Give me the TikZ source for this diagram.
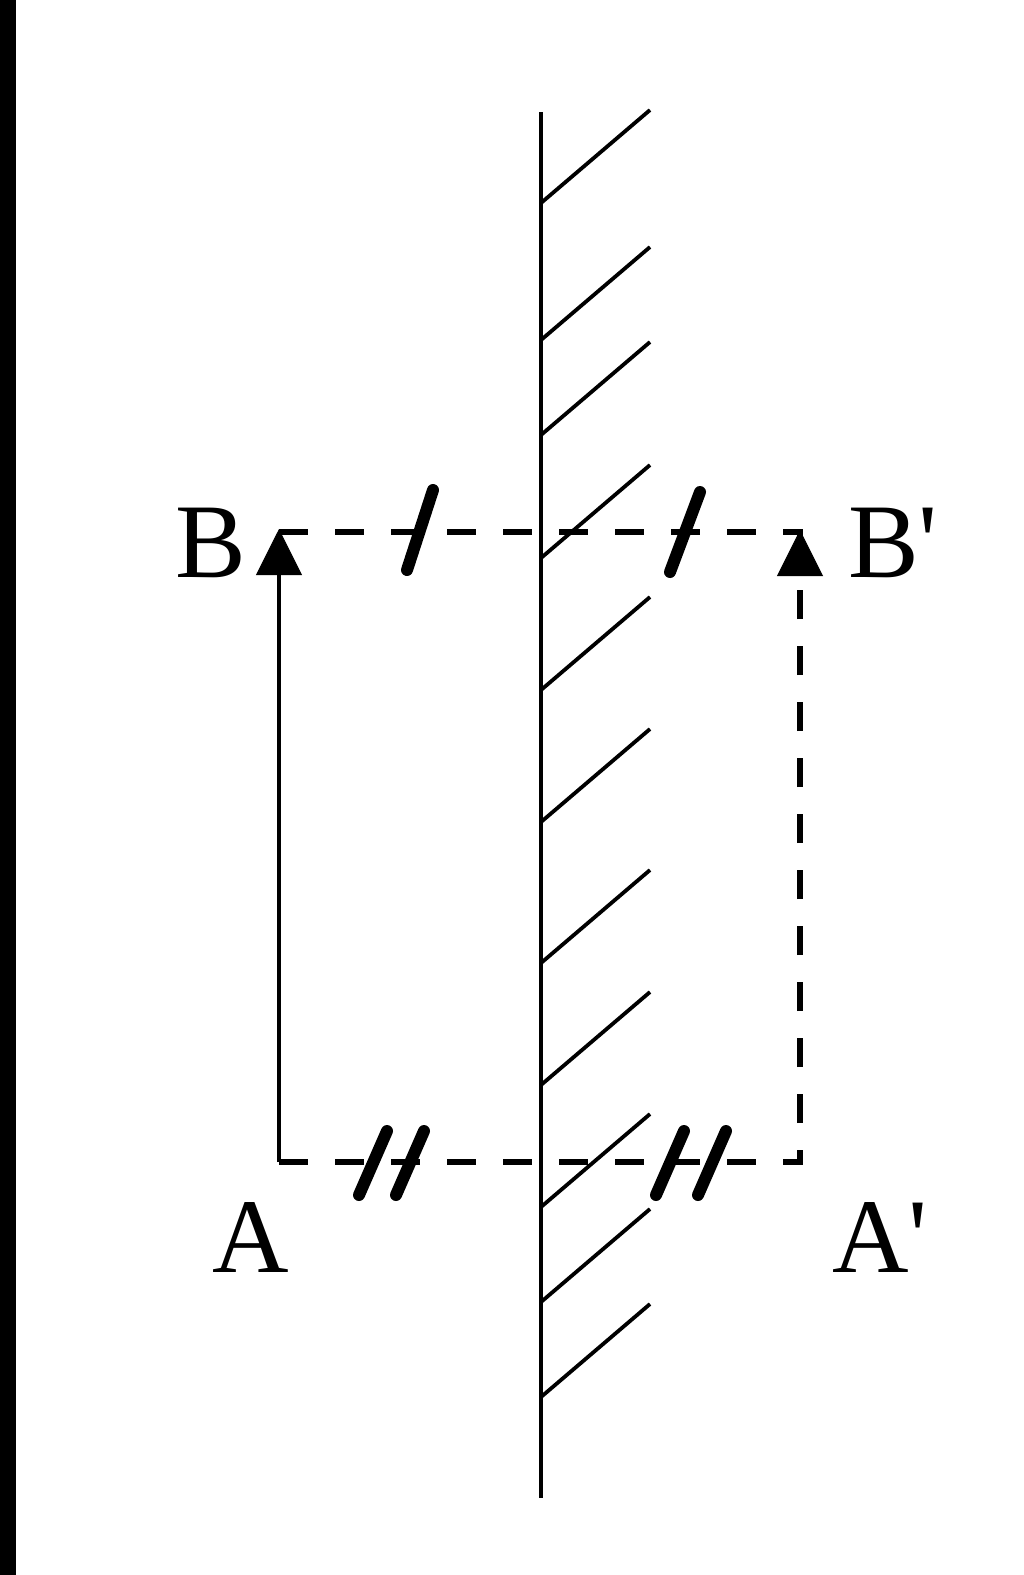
\documentclass[tikz,border=0pt]{standalone}
\usepackage{fontspec}
\newfontfamily\lab[Ligatures=TeXOff]{Liberation Serif}
\usetikzlibrary{arrows.meta,calc}
\begin{document}
\begin{tikzpicture}[x=1pt,y=-1pt,
  mirror/.style={line width=4.5pt},
  hatch/.style={line width=3.8pt},
  tipstyle/.style={-{Triangle[width=46pt,length=46pt,line width=1pt]}},
  solidarrow/.style={line width=3.5pt,tipstyle},
  dashline/.style={line width=5.5pt,dash pattern=on 29pt off 27pt},
  tickmark/.style={line width=12pt,line cap=round},
  lbl/.style={font=\lab\fontsize{106}{106}\selectfont,inner sep=0pt,anchor=base west}]
\useasboundingbox (0,0) rectangle (1024,1575);
\fill[black] (0,0) rectangle (16,1575);
% mirror
\coordinate (Mt) at (541,112);
\coordinate (Mb) at (541,1498);
\draw[mirror] (Mt) -- (Mb);
\foreach \y in {203,340,435,558,690,822,963,1085,1207,1302,1397}
  \draw[hatch] (541,\y) -- ++(109,-93);
% points
\coordinate (A) at (279,1162);
\coordinate (B) at (279,532);
\coordinate (Btip) at (279,529);
\coordinate (A2) at (800,1162);
\coordinate (B2) at (800,532);
\coordinate (B2hook) at (800,540);
\coordinate (B2tip) at (800,530);
% object and image
\draw[solidarrow] (A) -- (Btip);
\draw[dashline] (B) -- (B2) -- (B2hook);
\draw[dashline,tipstyle] (A) -- (A2) -- (B2tip);
% equal-length ticks
\coordinate (t1) at (420,530);
\coordinate (t2) at (685,532);
\draw[tickmark] ($(t1)+(-13,40)$) -- ($(t1)+(13,-40)$);
\draw[tickmark] ($(t2)+(-15,40)$) -- ($(t2)+(15,-40)$);
\foreach \x in {373,410,670,712}
  \draw[tickmark] (\x-14,1163+32) -- (\x+14,1163-32);
% labels
\node[lbl] (lB) at (175,577) {B};
\node[lbl] (lB2) at (848,577) {B'};
\node[lbl] (lA) at (212,1272) {A};
\node[lbl] (lA2) at (832,1272) {A'};
\end{tikzpicture}
\end{document}
